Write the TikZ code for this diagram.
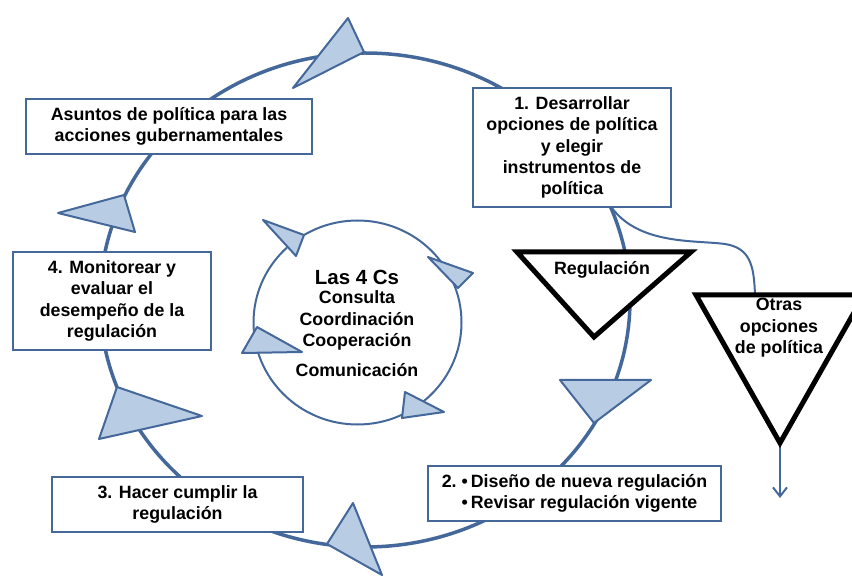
\documentclass[tikz,border=0pt]{standalone}
\usepackage{fontspec}
\setmainfont{Liberation Sans}
\usetikzlibrary{arrows.meta, positioning, calc}
\definecolor{cycleblue}{RGB}{68,104,154}
\definecolor{tipfill}{RGB}{184,204,228}
\tikzset{
  stagebox/.style={
    rectangle, draw=cycleblue, line width=2.5pt, fill=white, inner sep=0pt,
    align=center, font=\bfseries\fontsize{17.8}{21.4}\selectfont
  },
  label/.style={align=center, inner sep=0pt, font=\bfseries\fontsize{17.8}{21.4}\selectfont},
  cyclearc/.style={draw=cycleblue, line width=3.5pt},
  innerarc/.style={draw=cycleblue, line width=2pt},
  flowtip/.style={draw=cycleblue, fill=tipfill, line width=2pt, line join=round},
  optiontri/.style={draw=black, fill=white, line width=5pt, line join=miter},
  branch/.style={draw=cycleblue, line width=2pt}
}

\begin{document}
\begin{tikzpicture}[x=1pt, y=-1pt]
    \useasboundingbox (0,0) rectangle (852,577);
    % cycles
    \coordinate (hub) at (365,300);
    \coordinate (core) at (357.5,322.5);
    \draw[cyclearc] (hub) ellipse [x radius=265pt, y radius=247pt];
    \draw[innerarc] (core) ellipse [x radius=104pt, y radius=102pt];
    % triangle corners
    \coordinate (regL) at (517,252);
    \coordinate (regR) at (691,252);
    \coordinate (regB) at (594,337);
    \coordinate (othL) at (696,295);
    \coordinate (othR) at (864,295);
    \coordinate (othB) at (780,443);
    \coordinate (othIn) at (755,295);
    \coordinate (othEnd) at (780,498);
    % stages
    \node[stagebox, minimum width=286pt, minimum height=55pt] (issues) at (169,126.5)
      {Asuntos de política para las\\acciones gubernamentales};
    \node[stagebox, minimum width=198pt, minimum height=119pt] (develop) at (572,147.5)
      {1. Desarrollar\\opciones de política\\y elegir\\instrumentos de\\política};
    \node[stagebox, minimum width=293pt, minimum height=55pt] (design) at (574.5,493.5)
      {\begin{tabular}{@{}l@{\hspace{5pt}}l@{}}2. & \textbullet\,Diseño de nueva regulación\\ & \textbullet\,Revisar regulación vigente\end{tabular}};
    \node[stagebox, minimum width=251pt, minimum height=55pt] (enforce) at (177.5,504.5)
      {3. Hacer cumplir la\\regulación};
    \node[stagebox, minimum width=198pt, minimum height=98pt] (monitor) at (112,301)
      {4. Monitorear y\\evaluar el\\desempeño de la\\regulación};
    % branch to other options
    \draw[branch] ($(develop.south west)!0.70!(develop.south east)$)
      .. controls (640,245) and (695,240) .. (725,244)
      .. controls (750,248) and (754,265) .. (othIn);
    \draw[branch, -{Straight Barb[length=9pt, width=14pt, line width=2pt]}] (othB) -- (othEnd);
    % options
    \draw[optiontri] (regL) -- (regR) -- (regB) -- cycle;
    \draw[optiontri] (othL) -- (othR) -- (othB) -- cycle;
    \node[label] (regtxt) at (602,270) {Regulación};
    \node[label] (othtxt) at (779,328) {Otras\\opciones\\de política};
    % arrow heads
    \foreach \ax/\ay/\bx/\by/\cx/\cy in {348/18/364/52/293/88, 560/380/651/380/594/423,
        353/503/327/544/382/575, 117/387/202/416/99/439, 58/213/124/195/135/232,
        263/220/304/235/296/256, 428/257/473/273/458/288,
        257/327/302/352/242/353, 405/392/444/412/402/418}
      \draw[flowtip] (\ax,\ay) -- (\bx,\by) -- (\cx,\cy) -- cycle;
    % four Cs
    \node[label, font=\bfseries\fontsize{20.5}{24}\selectfont] (cstitle) at (357,277) {Las 4 Cs};
    \node[label] (cslist) at (357,334) {Consulta\\Coordinación\\Cooperación\\[9pt]Comunicación};
\end{tikzpicture}
\end{document}
